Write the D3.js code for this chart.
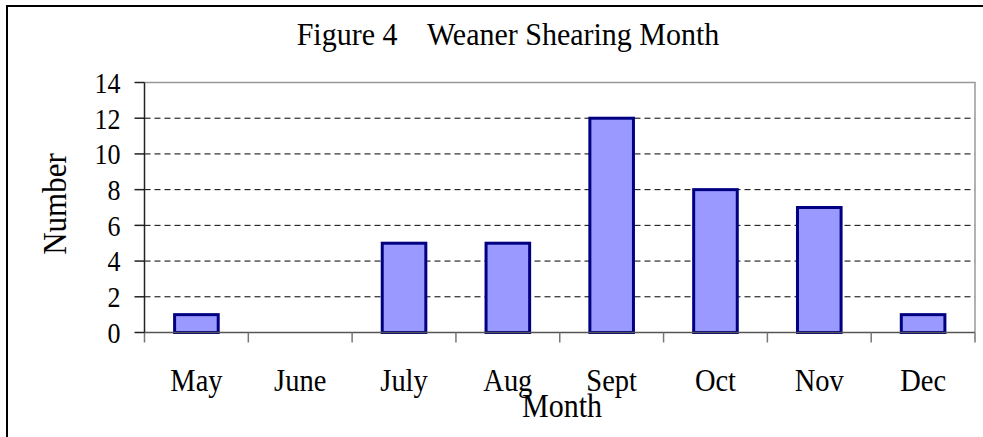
<!DOCTYPE html>
<html><head><meta charset="utf-8">
<script src="https://cdn.jsdelivr.net/npm/d3@7"></script>
<style>html,body{margin:0;padding:0;background:#fff;overflow:hidden}</style>
</head><body>
<svg id="c" width="983" height="437"></svg>
<script>
const categories = ["May","June","July","Aug","Sept","Oct","Nov","Dec"];
const values = [1,0,5,5,12,8,7,1];
const yTicks = [0,2,4,6,8,10,12,14];
const titleText = "Figure 4    Weaner Shearing Month";
const xTitle = "Month";
const yTitle = "Number";

const svg = d3.select("#c");
const font = "'Liberation Serif','Times New Roman',serif";
const L = 144.5, R = 975, T = 82.5, B = 332.5;
const SY = 1.1;

// outer border
svg.append("rect").attr("x",7).attr("y",6).attr("width",1000).attr("height",1000)
  .attr("fill","#fff").attr("stroke","#000").attr("stroke-width",2);

const x = d3.scaleBand().domain(categories).range([L,R]).paddingInner(0.58).paddingOuter(0.29);
const xb = d3.scaleBand().domain(categories).range([L,R]);
const y = d3.scaleLinear().domain([0,14]).range([B,T]);

// gridlines
svg.append("g").selectAll("line").data(yTicks.filter(d=>d>0 && d<14)).join("line")
  .attr("x1",L).attr("x2",R).attr("y1",d=>y(d)).attr("y2",d=>y(d))
  .attr("stroke","#000").attr("stroke-width",1).attr("stroke-dasharray","6,4");

// plot border top & right
svg.append("path").attr("d",`M${L},${T}H${R}V${B}`).attr("fill","none")
  .attr("stroke","#999").attr("stroke-width",1.5);

// bars
svg.append("g").selectAll("rect").data(categories).join("rect")
  .attr("x",d=>x(d)).attr("width",x.bandwidth())
  .attr("y",(d,i)=>y(values[i])).attr("height",(d,i)=>B-y(values[i]))
  .attr("fill","#9999ff").attr("stroke","#000080").attr("stroke-width",3)
  .style("display",(d,i)=>values[i]===0?"none":null);

// x axis
const xg = svg.append("g").attr("transform",`translate(0,${B})`);
xg.append("line").attr("x1",L).attr("x2",R).attr("stroke","#555").attr("stroke-width",1.5);
const bounds = categories.map(c=>xb(c)).concat([R]);
xg.selectAll("line.t").data(bounds).join("line").attr("class","t")
  .attr("x1",d=>d).attr("x2",d=>d).attr("y1",0).attr("y2",10)
  .attr("stroke","#777").attr("stroke-width",1.5);
xg.selectAll("text").data(categories).join("text")
  .attr("transform",d=>`translate(${xb(d)+xb.bandwidth()/2},58) scale(1,${SY})`)
  .attr("text-anchor","middle").attr("font-family",font).attr("font-size",28.5).attr("fill","#000")
  .text(d=>d);

// y axis
const yg = svg.append("g").attr("transform",`translate(${L},0)`);
yg.append("line").attr("y1",T).attr("y2",B).attr("stroke","#222").attr("stroke-width",1.5);
yg.selectAll("line.t").data(yTicks).join("line").attr("class","t")
  .attr("x1",-10).attr("x2",0).attr("y1",d=>y(d)).attr("y2",d=>y(d))
  .attr("stroke","#222").attr("stroke-width",1.5);
yg.selectAll("text").data(yTicks).join("text")
  .attr("transform",d=>`translate(-24,${y(d)}) scale(1,${SY+0.04})`).attr("dy","0.35em")
  .attr("text-anchor","end").attr("font-family",font).attr("font-size",26).attr("fill","#000")
  .text(d=>d);

// titles
svg.append("text").attr("transform","translate(508,45) scale(1,1.05)").attr("text-anchor","middle")
  .attr("font-family",font).attr("font-size",30).style("white-space","pre").attr("fill","#000")
  .text(titleText);
svg.append("text").attr("transform",`translate(562,417) scale(1,${SY})`).attr("text-anchor","middle")
  .attr("font-family",font).attr("font-size",30).attr("fill","#000").text(xTitle);
svg.append("text").attr("transform",`translate(66,204) rotate(-90) scale(1,${SY})`).attr("text-anchor","middle")
  .attr("font-family",font).attr("font-size",31).attr("fill","#000").text(yTitle);
</script>
</body></html>
